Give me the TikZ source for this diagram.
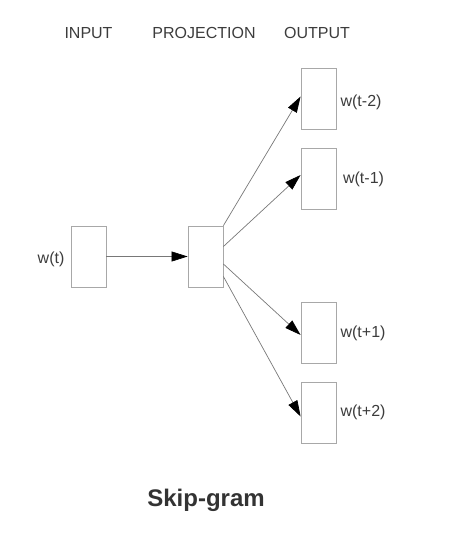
\documentclass[tikz,border=0pt]{standalone}
\usepackage{fontspec}
\setmainfont{Liberation Sans}
\definecolor{colbox}{RGB}{168,168,168}
\definecolor{colline}{RGB}{120,120,120}
\definecolor{coltext}{RGB}{60,60,60}
\usetikzlibrary{
	arrows.meta,
	positioning
}
\tikzset{
	>={Triangle[length=16pt,width=10pt,color=black]},
	wordbox/.style={draw=colbox, line width=0.8pt, minimum width=35pt, minimum height=61pt, inner sep=0pt},
	wordlabel/.style={inner sep=0pt, text=coltext, font=\fontsize{16}{19}\selectfont},
	header/.style={inner sep=0pt, anchor=base, text=coltext, font=\fontsize{16}{19}\selectfont},
	link/.style={->, draw=colline, line width=0.7pt}
}

\begin{document}
\begin{tikzpicture}[x=1pt, y=-1pt]
	\useasboundingbox (0,0) rectangle (450,540);
	% layers
	\node[wordbox] (inp) at (88.5,256.5) {};
	\node[wordbox] (proj) at (205.5,256.5) {};
	\foreach \name/\y in {outa/98.5, outb/178.5, outc/333, outd/412.5} {
		\node[wordbox] (\name) at (318.5,\y) {};
	}
	% headings
	\node[header] (hinp) at (88.5,38.5) {INPUT};
	\node[header] (hproj) at (204,38.5) {PROJECTION};
	\node[header] (hout) at (317,38.5) {OUTPUT};
	% words
	\node[wordlabel, left=6pt of inp, yshift=-3pt] (winp) {w(t)};
	\node[wordlabel, right=4pt of outa, yshift=-4pt] (wouta) {w(t-2)};
	\node[wordlabel, right=6.5pt of outb, yshift=-1pt] (woutb) {w(t-1)};
	\node[wordlabel, right=4pt of outc] (woutc) {w(t+1)};
	\node[wordlabel, right=4pt of outd] (woutd) {w(t+2)};
	% connections
	\draw[link] (inp.east) -- (proj.west);
	\draw[link] (proj.north east) -- ([yshift=2pt]outa.west);
	\draw[link] ([yshift=10pt]proj.east) -- ([yshift=3.5pt]outb.west);
	\draw[link] ([yshift=-7.5pt]proj.east) -- ([yshift=-2pt]outc.west);
	\draw[link] ([yshift=-20pt]proj.east) -- ([yshift=-4pt]outd.west);
	% title
	\node[header, text=black!80, font=\fontsize{24}{28}\bfseries] (title) at (206,506) {Skip-gram};
\end{tikzpicture}
\end{document}
